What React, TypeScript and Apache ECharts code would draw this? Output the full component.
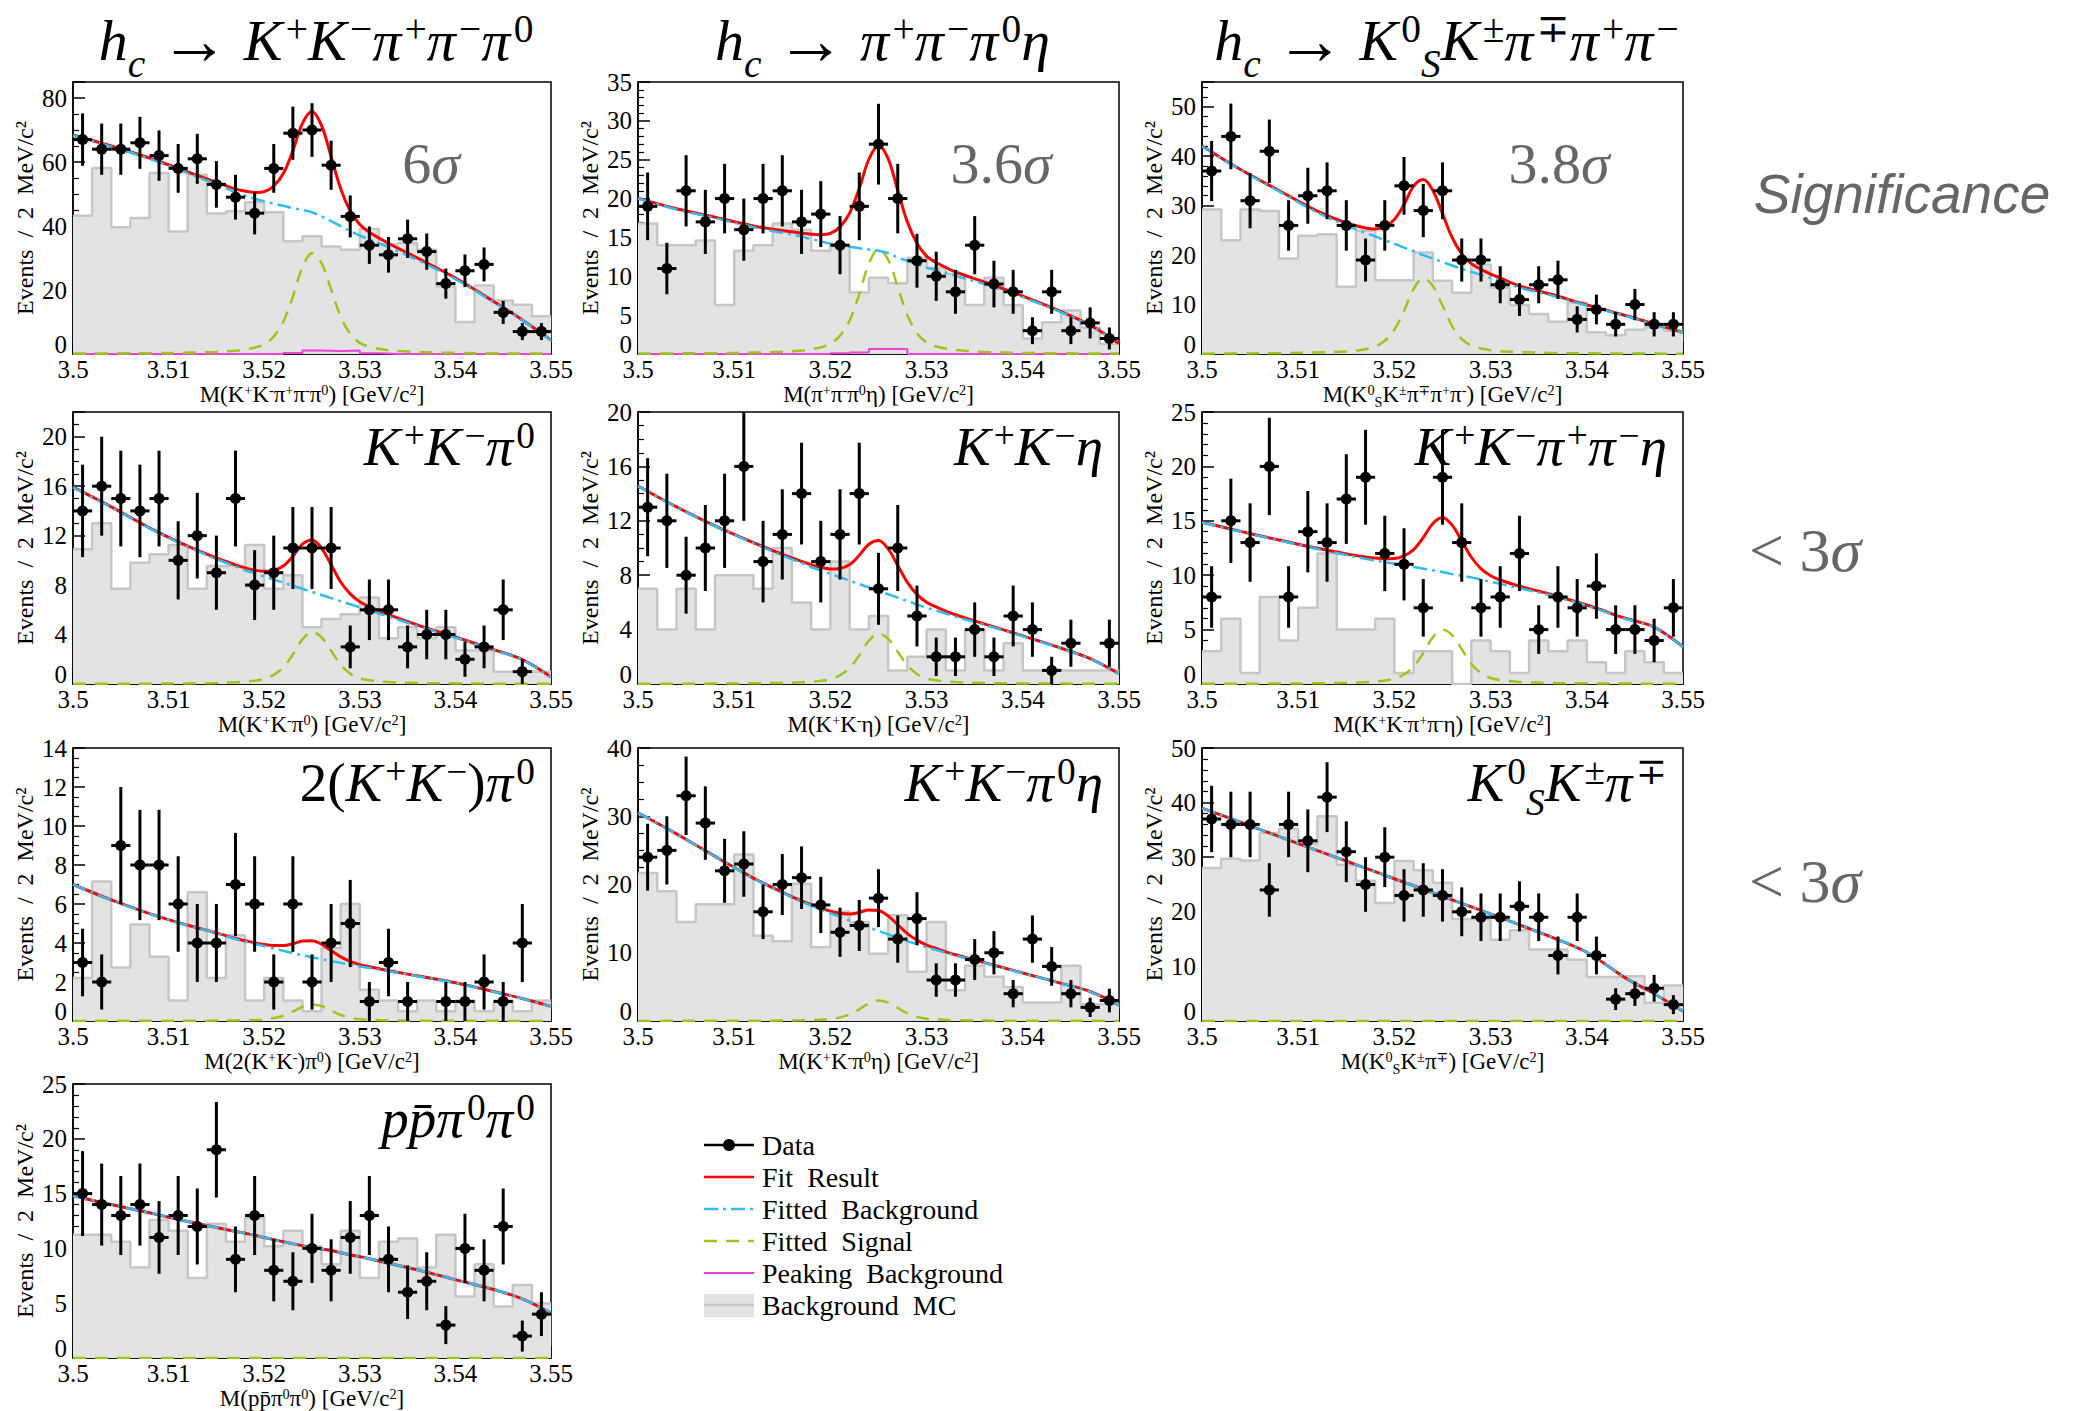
import React, { useEffect, useRef } from 'react';
import * as echarts from 'echarts';

// ---------- binning (2 MeV/c^2 bins over 3.50 - 3.55 GeV/c^2) ----------
const BIN_CENTERS = [3.501, 3.503, 3.505, 3.507, 3.509, 3.511, 3.513, 3.515, 3.517, 3.519, 3.521, 3.523, 3.525, 3.527, 3.529, 3.531, 3.533, 3.535, 3.537, 3.539, 3.541, 3.543, 3.545, 3.547, 3.549];
const BIN_EDGES = [3.500, 3.502, 3.504, 3.506, 3.508, 3.510, 3.512, 3.514, 3.516, 3.518, 3.520, 3.522, 3.524, 3.526, 3.528, 3.530, 3.532, 3.534, 3.536, 3.538, 3.540, 3.542, 3.544, 3.546, 3.548, 3.550];
// abscissae at which the fitted curves are sampled
const CURVE_X = [3.500, 3.504, 3.508, 3.512, 3.515, 3.517, 3.518, 3.519, 3.520, 3.521, 3.522, 3.523, 3.524, 3.525, 3.526, 3.527, 3.528, 3.529, 3.530, 3.531, 3.533, 3.536, 3.540, 3.544, 3.547, 3.550];

// ---------- h_c -> K+K-pi+pi-pi0 ----------
const P1_DATA = [67, 64, 64, 66, 62, 58, 61, 53, 49, 44, 58, 69, 70, 59, 43, 34, 31, 36, 32, 22, 26, 28, 13, 7, 7];
const P1_MC = [43.2, 58.1, 39.6, 42.5, 56.6, 38.3, 56, 43.9, 44.6, 47.4, 44.3, 35.2, 36.8, 33.6, 32.6, 39.1, 34.2, 34.7, 32.6, 21.1, 10, 21.4, 16.7, 15.4, 11.8];
const P1_BKG = [68.3, 64.8, 61, 56.5, 53, 50.5, 49.5, 48.5, 47.7, 47, 46.3, 45.6, 45, 44.3, 43, 41.5, 40, 38.4, 37, 35.8, 33.4, 29.4, 23.4, 16.2, 10.5, 4.2];
const P1_SIG = [0.13, 0.19, 0.25, 0.41, 0.66, 1.04, 1.42, 1.98, 3.06, 5.51, 10.08, 17.96, 27.09, 31.5, 28.35, 20.16, 11.66, 6.3, 3.47, 2.27, 1.2, 0.63, 0.35, 0.22, 0.16, 0.13];
const P1_PEAK = [0, 0, 0, 0, 0, 0, 0, 0, 0, 0, 0, 0.3, 1.1, 0.9, 1.1, 0.2, 0, 0, 0, 0, 0, 0, 0, 0, 0];

// ---------- h_c -> pi+pi-pi0 eta ----------
const P2_DATA = [19, 11, 21, 17, 20, 16, 20, 21, 17, 18, 14, 19, 27, 20, 12, 10, 8, 14, 9, 8, 3, 8, 3, 4, 2];
const P2_MC = [16.8, 14, 14, 14.6, 6.3, 13.3, 14, 16.8, 16, 13.3, 13.9, 7.9, 9.8, 9.1, 12.4, 11.1, 10.3, 6.3, 9.8, 6.3, 2, 4.1, 5.6, 3.4, 1.3];
const P2_BKG = [20.0, 18.6, 17.5, 16.3, 15.6, 15.1, 14.8, 14.5, 14.2, 14.0, 13.8, 13.6, 13.45, 13.3, 13.0, 12.4, 12.0, 11.55, 11.1, 10.8, 10.05, 9.0, 7.3, 5.35, 3.65, 1.3];
const P2_SIG = [0.05, 0.08, 0.11, 0.18, 0.28, 0.45, 0.61, 0.85, 1.31, 2.36, 4.32, 7.7, 11.61, 13.5, 12.15, 8.64, 5.0, 2.7, 1.49, 0.97, 0.51, 0.27, 0.15, 0.09, 0.07, 0.05];
const P2_PEAK = [0, 0, 0, 0, 0, 0, 0, 0, 0, 0, 0.1, 0.2, 0.65, 0.65, 0, 0, 0, 0, 0, 0, 0, 0, 0, 0, 0];

// ---------- h_c -> K0S K+- pi-+ pi+pi- ----------
const P3_DATA = [37, 44, 31, 41, 26, 32, 33, 26, 19, 26, 34, 29, 33, 19, 19, 14, 11, 14, 15, 7, 9, 6, 10, 6, 6];
const P3_MC = [29.2, 23, 29.2, 28.9, 19.3, 23.9, 24.2, 13.6, 24.9, 14.9, 14.9, 20.5, 14.8, 12.4, 18.1, 13.4, 9.9, 8.1, 6.5, 10.4, 4.4, 3.8, 4.9, 5.4, 4.7];
const P3_BKG = [42.0, 37.2, 32.9, 28.6, 26.0, 24.5, 23.8, 23.0, 22.3, 21.5, 20.8, 20.0, 19.3, 18.6, 17.9, 17.2, 16.6, 16.0, 15.4, 14.8, 13.4, 12.0, 9.8, 7.7, 6.0, 4.3];
const P3_SIG = [0.06, 0.11, 0.17, 0.31, 0.5, 0.96, 1.48, 2.68, 4.9, 8.72, 13.16, 15.3, 13.77, 9.79, 5.66, 3.06, 1.68, 1.1, 0.77, 0.58, 0.38, 0.23, 0.14, 0.09, 0.08, 0.06];

// ---------- K+K-pi0 ----------
const P4_DATA = [14, 16, 15, 14, 15, 10, 12, 9, 15, 8, 9, 11, 11, 11, 3, 6, 6, 3, 4, 4, 2, 3, 6, 1, null];
const P4_MC = [10.9, 13, 7.7, 9.8, 10.5, 11.25, 7.7, 9.55, 9.55, 11.25, 7.7, 8.8, 4.6, 5.25, 5.65, 7, 3.7, 4.6, 3.7, 4.6, 2.7, 2.7, 1, 1, 1];
const P4_BKG = [15.9, 14.3, 12.6, 11.1, 10.1, 9.5, 9.2, 8.95, 8.7, 8.45, 8.2, 7.95, 7.7, 7.45, 7.2, 6.95, 6.7, 6.45, 6.2, 5.95, 5.45, 4.7, 3.75, 2.75, 1.95, 0.55];
const P4_SIG = [0.02, 0.03, 0.03, 0.05, 0.09, 0.14, 0.19, 0.26, 0.41, 0.74, 1.34, 2.39, 3.61, 4.2, 3.78, 2.69, 1.55, 0.84, 0.46, 0.3, 0.16, 0.08, 0.05, 0.03, 0.02, 0.02];

// ---------- K+K-eta ----------
const P5_DATA = [13, 12, 8, 10, 12, 16, 9, 11, 14, 9, 11, 14, 7, 10, 5, 2, 2, 4, 2, 5, 4, 1, 3, null, 3];
const P5_MC = [7, 4, 7, 4, 8, 8, 7, 10, 6, 4, 9, 4, 5, 1, 2, 4, 1, 4, 1, 3, 1, 1, 1, 1, 1];
const P5_BKG = [14.55, 13.0, 11.6, 10.35, 9.45, 8.9, 8.6, 8.35, 8.1, 7.85, 7.6, 7.35, 7.1, 6.85, 6.6, 6.35, 6.1, 5.85, 5.6, 5.4, 4.95, 4.35, 3.5, 2.6, 1.85, 0.75];
const P5_SIG = [0.01, 0.02, 0.03, 0.05, 0.08, 0.12, 0.17, 0.23, 0.36, 0.65, 1.18, 2.11, 3.18, 3.7, 3.33, 2.37, 1.37, 0.74, 0.41, 0.27, 0.14, 0.07, 0.04, 0.03, 0.02, 0.01];

// ---------- K+K-pi+pi-eta ----------
const P6_DATA = [8, 15, 13, 20, 8, 14, 13, 17, 19, 12, 11, 7, 19, 13, 7, 8, 12, 5, 8, 7, 9, 5, 5, 4, 7];
const P6_MC = [3, 6, 1, 8, 4, 7, 12, 5, 5, 6, 1, 3, 3, 0, 4, 3, 1, 4, 3, 4, 2, 1, 3, 2, 1];
const P6_BKG = [14.85, 14.0, 13.2, 12.4, 11.85, 11.5, 11.35, 11.2, 11.05, 10.9, 10.75, 10.6, 10.45, 10.3, 10.1, 9.95, 9.8, 9.6, 9.4, 9.2, 8.8, 8.2, 7.2, 6.0, 5.2, 3.4];
const P6_SIG = [0.02, 0.03, 0.04, 0.07, 0.11, 0.17, 0.23, 0.32, 0.49, 0.88, 1.6, 2.85, 4.3, 5.0, 4.5, 3.2, 1.85, 1.0, 0.55, 0.36, 0.19, 0.1, 0.06, 0.04, 0.03, 0.02];

// ---------- 2(K+K-)pi0 ----------
const P7_DATA = [3, 2, 9, 8, 8, 6, 4, 4, 7, 6, 2, 6, 2, 4, 5, 1, 3, 1, null, 1, 1, 2, 1, 4, null];
const P7_MC = [2.2, 7.15, 2.75, 4.95, 3.3, 1.05, 6.6, 2.2, 4.4, 1.05, 2.2, 1.05, 0.5, 3.75, 6.0, 1.6, 1.05, 0.5, 1.05, 0.5, 1.05, 0.5, 1.05, 0.5, 1.05];
const P7_BKG = [7.0, 6.2, 5.5, 4.9, 4.5, 4.2, 4.08, 3.96, 3.84, 3.72, 3.6, 3.48, 3.37, 3.27, 3.17, 3.07, 2.98, 2.89, 2.8, 2.72, 2.55, 2.3, 1.95, 1.5, 1.15, 0.75];
const P7_SIG = [0, 0.01, 0.01, 0.01, 0.02, 0.03, 0.04, 0.05, 0.08, 0.15, 0.27, 0.48, 0.73, 0.85, 0.77, 0.54, 0.31, 0.17, 0.09, 0.06, 0.03, 0.02, 0.01, 0.01, 0, 0];

// ---------- K+K-pi0 eta ----------
const P8_DATA = [24, 25, 33, 29, 22, 23, 16, 20, 21, 17, 13, 14, 18, 12, 15, 6, 6, 9, 10, 4, 12, 8, 4, 2, 3];
const P8_MC = [21.7, 19, 14.5, 17.1, 17.1, 24.4, 12.5, 11.7, 20.1, 10.8, 16, 14.5, 9.85, 15.5, 7.2, 14.5, 4.5, 8.1, 6.5, 5.0, 2.7, 2.7, 8.1, 2.5, 2.5];
const P8_BKG = [30.5, 27.4, 24.1, 20.9, 18.8, 17.5, 16.9, 16.35, 15.8, 15.25, 14.7, 14.2, 13.7, 13.2, 12.7, 12.2, 11.7, 11.25, 10.8, 10.4, 9.6, 8.5, 7.0, 5.5, 4.3, 2.3];
const P8_SIG = [0.01, 0.02, 0.02, 0.04, 0.06, 0.1, 0.14, 0.19, 0.29, 0.53, 0.96, 1.71, 2.58, 3.0, 2.7, 1.92, 1.11, 0.6, 0.33, 0.22, 0.11, 0.06, 0.03, 0.02, 0.02, 0.01];

// ---------- K0S K+- pi-+ ----------
const P9_DATA = [37, 36, 36, 24, 36, 33, 41, 31, 25, 30, 23, 24, 23, 20, 19, 19, 21, 19, 12, 19, 12, 4, 5, 6, 3];
const P9_MC = [28, 29.7, 29.4, 34.45, 35.2, 32.4, 37.5, 28.6, 25.7, 21.6, 29.3, 27.6, 25.3, 18.7, 18.7, 14.9, 16.6, 13.1, 13.1, 11.2, 8.05, 8.05, 8.2, 3.35, 6.5];
const P9_BKG = [39.0, 36.4, 33.8, 31.2, 29.3, 28.0, 27.35, 26.7, 26.05, 25.4, 24.8, 24.1, 23.5, 22.85, 22.2, 21.55, 20.9, 20.25, 19.6, 18.95, 17.6, 15.6, 12.6, 7.9, 5.0, 1.8];
const P9_SIG = [0, 0, 0, 0, 0, 0, 0, 0, 0, 0, 0, 0, 0, 0, 0, 0, 0, 0, 0, 0, 0, 0, 0, 0, 0, 0];

// ---------- p pbar pi0 pi0 ----------
const P10_DATA = [15, 14, 13, 14, 11, 13, 12, 19, 9, 13, 8, 7, 10, 8, 11, 13, 9, 6, 7, 3, 10, 8, 12, 2, 4];
const P10_MC = [11.25, 11.25, 10.6, 8.25, 12.6, 11.6, 7.3, 12.25, 10.6, 12.8, 10.2, 11.6, 10.2, 8.55, 11.6, 7.3, 10.6, 10.9, 8.25, 11.25, 5.6, 8.55, 4.7, 6.65, 5.0];
const P10_BKG = [14.8, 14.0, 13.25, 12.45, 11.9, 11.55, 11.38, 11.2, 11.0, 10.8, 10.6, 10.42, 10.25, 10.1, 9.95, 9.8, 9.6, 9.4, 9.25, 9.05, 8.65, 8.05, 7.15, 6.25, 5.4, 4.1];
const P10_SIG = [0, 0, 0, 0, 0, 0, 0, 0, 0, 0, 0, 0, 0, 0, 0, 0, 0, 0, 0, 0, 0, 0, 0, 0, 0, 0];

// ---------- per-panel axis settings and texts ----------
const Y_MAX = [85, 35, 55, 22, 20, 25, 14, 40, 50, 25];
const Y_STEP = [20, 5, 10, 4, 4, 5, 2, 10, 10, 5];
const Y_MINOR = [4, 5, 5, 4, 4, 5, 4, 4, 5, 5];
const X_TICK_LABELS = ['3.5', '3.51', '3.52', '3.53', '3.54', '3.55'];
const Y_ORIGIN_LABEL = '0';
const Y_TITLE = 'Events\u2002/\u20022\u2002MeV/c\u00B2';
const X_TITLES = [
  'M(K^{+}K^{-}π^{+}π^{-}π^{0}) [GeV/c^{2}]',
  'M(π^{+}π^{-}π^{0}η) [GeV/c^{2}]',
  'M(K^{0}_{S}K^{±}π^{∓}π^{+}π^{-}) [GeV/c^{2}]',
  'M(K^{+}K^{-}π^{0}) [GeV/c^{2}]',
  'M(K^{+}K^{-}η) [GeV/c^{2}]',
  'M(K^{+}K^{-}π^{+}π^{-}η) [GeV/c^{2}]',
  'M(2(K^{+}K^{-})π^{0}) [GeV/c^{2}]',
  'M(K^{+}K^{-}π^{0}η) [GeV/c^{2}]',
  'M(K^{0}_{S}K^{±}π^{∓}) [GeV/c^{2}]',
  'M(pp\u0304π^{0}π^{0}) [GeV/c^{2}]',
];
const TITLES = [
  'h_{c} → K^{+}K^{−}π^{+}π^{−}π^{0}',
  'h_{c} → π^{+}π^{−}π^{0}η',
  'h_{c} → K^{0}_{S}K^{±}π^{∓}π^{+}π^{−}',
];
const CHANNEL_LABELS = [
  '', '', '',
  'K^{+}K^{−}π^{0}',
  'K^{+}K^{−}η',
  'K^{+}K^{−}π^{+}π^{−}η',
  '2(K^{+}K^{−})π^{0}',
  'K^{+}K^{−}π^{0}η',
  'K^{0}_{S}K^{±}π^{∓}',
  'pp\u0304π^{0}π^{0}',
];
const SIGNIFICANCES = ['6σ', '3.6σ', '3.8σ'];
const SIGNIFICANCE_COLUMN = ['Significance', '< 3σ', '< 3σ'];
const LEGEND_LABELS = ['Data', 'Fit\u2002Result', 'Fitted\u2002Background', 'Fitted\u2002Signal', 'Peaking\u2002Background', 'Background\u2002MC'];

// ---------- layout ----------
const COL_LEFT = [73, 638, 1202];
const COL_WIDTH = [478, 481, 481];
const ROW_TOP = [82, 412, 748, 1084];
const ROW_HEIGHT = [272, 272, 273, 274];

const FONT = 'Liberation Serif, DejaVu Serif, serif';
const SANS = 'Liberation Sans, Arial, sans-serif';
const C_RED = '#ff0000';
const C_BLUE = '#2fbcef';
const C_GREEN = '#9cc61c';
const C_MAGENTA = '#ee3fd8';
const C_MC_FILL = '#e3e3e3';
const C_MC_LINE = '#c6c6c6';
const C_GRAY_TEXT = '#666666';

const PANEL_DATA = [P1_DATA, P2_DATA, P3_DATA, P4_DATA, P5_DATA, P6_DATA, P7_DATA, P8_DATA, P9_DATA, P10_DATA];
const PANEL_MC = [P1_MC, P2_MC, P3_MC, P4_MC, P5_MC, P6_MC, P7_MC, P8_MC, P9_MC, P10_MC];
const PANEL_BKG = [P1_BKG, P2_BKG, P3_BKG, P4_BKG, P5_BKG, P6_BKG, P7_BKG, P8_BKG, P9_BKG, P10_BKG];
const PANEL_SIG = [P1_SIG, P2_SIG, P3_SIG, P4_SIG, P5_SIG, P6_SIG, P7_SIG, P8_SIG, P9_SIG, P10_SIG];
const PANEL_PEAK = [P1_PEAK, P2_PEAK];

// ---------- TLatex-like formulas rendered as rich text ----------
function parseTex(src) {
  const out = [];
  let i = 0;
  let buf = '';
  const flush = () => {
    if (buf) out.push({ kind: 'base', text: buf });
    buf = '';
  };
  const readGroup = () => {
    let res = '';
    i++;
    while (i < src.length && src[i] !== '}') {
      res += src[i];
      i++;
    }
    i++;
    return res;
  };
  while (i < src.length) {
    const ch = src[i];
    if (ch === '^' || ch === '_') {
      flush();
      i++;
      out.push({ kind: ch === '^' ? 'sup' : 'sub', text: readGroup() });
    } else {
      buf += ch;
      i++;
    }
  }
  flush();
  return out;
}

function isLetter(ch) {
  return /[A-Za-z\u0370-\u03FF]/.test(ch);
}

// splits text into runs of italic letters, upright characters and arrows
function splitRuns(text, italicMode) {
  const runs = [];
  for (const ch of Array.from(text)) {
    const prev = runs[runs.length - 1];
    let cls = 'r';
    if (ch === '→') cls = 'a';
    else if (italicMode && (isLetter(ch) || (ch === '\u0304' && !!prev && prev.cls === 'i'))) cls = 'i';
    if (prev && prev.cls === cls && cls !== 'a') prev.text += ch;
    else runs.push({ text: ch, cls });
  }
  return runs;
}

// a graphic text element whose baseline sits at y
function formula(src, opt) {
  const {
    x, y, size: S, align = 'left', color = '#000', italic = true,
    ratio = 0.68, raise = 0.3, drop = 0.22, lineFactor = 1.2,
  } = opt;
  const ss = S * ratio;
  const L = lineFactor * S;
  const B = L / 2 + 0.3375 * S; // baseline of normal-size text below the line top
  const supH = 2 * (B - raise * S - 0.3375 * ss);
  const subH = 2 * (L - (B + drop * S - 0.3375 * ss));
  const common = { fontFamily: FONT, fill: color };
  const baseStyle = { ...common, fontSize: S, height: L, lineHeight: L, verticalAlign: 'bottom' };
  const supStyle = { ...common, fontSize: ss, height: supH, lineHeight: supH, verticalAlign: 'top' };
  const subStyle = { ...common, fontSize: ss, height: subH, lineHeight: subH, verticalAlign: 'bottom' };
  const rich = {
    br: { ...baseStyle, fontStyle: 'normal' },
    bi: { ...baseStyle, fontStyle: 'italic' },
    ba: { ...baseStyle, fontStyle: 'normal', fontSize: S * 1.2 },
    ur: { ...supStyle, fontStyle: 'normal' },
    ui: { ...supStyle, fontStyle: 'italic' },
    ua: { ...supStyle, fontStyle: 'normal' },
    dr: { ...subStyle, fontStyle: 'normal' },
    di: { ...subStyle, fontStyle: 'italic' },
    da: { ...subStyle, fontStyle: 'normal' },
  };
  let text = '';
  let prevItalic = false;
  for (const tok of parseTex(src)) {
    const key = tok.kind === 'base' ? 'b' : tok.kind === 'sup' ? 'u' : 'd';
    let t = tok.text;
    if (tok.kind === 'sup' && prevItalic) t = '\u200A' + t;
    const runs = splitRuns(t, italic);
    for (const run of runs) text += `{${key}${run.cls}|${run.text}}`;
    prevItalic = tok.kind === 'base' && runs.length > 0 && runs[runs.length - 1].cls === 'i';
  }
  return {
    type: 'text',
    x,
    y: y - B,
    silent: true,
    style: { text, rich, align, verticalAlign: 'top', fill: color, fontFamily: FONT, fontSize: S },
  };
}

function panelBox(p) {
  const row = Math.floor(p / 3);
  const col = p % 3;
  return { left: COL_LEFT[col], top: ROW_TOP[row], width: COL_WIDTH[col], height: ROW_HEIGHT[row] };
}

function renderDataPoint(params, api) {
  const x = api.value(0);
  const n = api.value(1);
  const err = Math.sqrt(n); // Poisson error on the bin content
  const c = api.coord([x, n]);
  const top = api.coord([x, n + err]);
  const bot = api.coord([x, Math.max(n - err, 0)]);
  const l = api.coord([x - 0.001, n]);
  const r = api.coord([x + 0.001, n]);
  return {
    type: 'group',
    children: [
      { type: 'line', shape: { x1: c[0], y1: top[1], x2: c[0], y2: bot[1] }, style: { stroke: '#000', lineWidth: 3 } },
      { type: 'line', shape: { x1: l[0], y1: c[1], x2: r[0], y2: c[1] }, style: { stroke: '#000', lineWidth: 3 } },
      { type: 'circle', shape: { cx: c[0], cy: c[1], r: 5.5 }, style: { fill: '#000' } },
    ],
  };
}

function buildOption() {
  const grids = [];
  const xAxes = [];
  const yAxes = [];
  const series = [];
  const graphics = [];

  for (let p = 0; p < 10; p++) {
    const box = panelBox(p);
    grids.push({ ...box, show: true, borderColor: '#000', borderWidth: 1.5, backgroundColor: 'transparent' });

    xAxes.push({
      gridIndex: p,
      type: 'value',
      min: 3.5,
      max: 3.55,
      interval: 0.01,
      axisLine: { lineStyle: { color: '#000', width: 1.5 } },
      axisTick: { inside: true, length: 12, lineStyle: { color: '#000', width: 1.5 } },
      minorTick: { show: true, splitNumber: 5, length: 6, lineStyle: { color: '#000', width: 1.2 } },
      splitLine: { show: false },
      axisLabel: {
        fontFamily: FONT,
        fontSize: 25,
        color: '#000',
        margin: 3,
        formatter: (v) => X_TICK_LABELS[Math.round((v - 3.5) / 0.01)] ?? '',
      },
    });

    const step = Y_STEP[p];
    yAxes.push({
      gridIndex: p,
      type: 'value',
      min: 0,
      max: Y_MAX[p],
      interval: step,
      axisLine: { lineStyle: { color: '#000', width: 1.5 } },
      axisTick: { inside: true, length: 12, lineStyle: { color: '#000', width: 1.5 } },
      minorTick: { show: true, splitNumber: Y_MINOR[p], length: 6, lineStyle: { color: '#000', width: 1.2 } },
      splitLine: { show: false },
      axisLabel: {
        fontFamily: FONT,
        fontSize: 25,
        color: '#000',
        margin: 6,
        // the origin label is placed separately, just above the x-axis labels
        formatter: (v) => (v === 0 || Math.abs(v / step - Math.round(v / step)) > 1e-6 ? '' : String(v)),
      },
      name: Y_TITLE,
      nameLocation: 'middle',
      nameRotate: 90,
      nameGap: 36,
      nameTextStyle: { fontFamily: FONT, fontSize: 24, color: '#000' },
    });

    graphics.push({
      type: 'text',
      x: box.left - 6,
      y: box.top + box.height - 10,
      silent: true,
      style: { text: Y_ORIGIN_LABEL, fontSize: 25, fontFamily: FONT, fill: '#000', align: 'right', verticalAlign: 'middle' },
    });

    const mc = PANEL_MC[p];
    const bkg = PANEL_BKG[p];
    const sig = PANEL_SIG[p];

    // background MC histogram
    series.push({
      type: 'line',
      xAxisIndex: p,
      yAxisIndex: p,
      step: 'end',
      symbol: 'none',
      silent: true,
      z: 1,
      data: BIN_EDGES.map((e, k) => [e, mc[Math.min(k, mc.length - 1)]]),
      lineStyle: { color: C_MC_LINE, width: 2.5 },
      areaStyle: { color: C_MC_FILL, opacity: 1 },
    });

    // peaking background
    if (PANEL_PEAK[p]) {
      const pk = PANEL_PEAK[p];
      series.push({
        type: 'line',
        xAxisIndex: p,
        yAxisIndex: p,
        step: 'end',
        symbol: 'none',
        silent: true,
        z: 2,
        data: BIN_EDGES.map((e, k) => [e, pk[Math.min(k, pk.length - 1)]]),
        lineStyle: { color: C_MAGENTA, width: 2 },
      });
    }

    // fitted signal
    series.push({
      type: 'line',
      xAxisIndex: p,
      yAxisIndex: p,
      symbol: 'none',
      silent: true,
      smooth: 0.35,
      z: 3,
      data: CURVE_X.map((x, k) => [x, sig[k]]),
      lineStyle: { color: C_GREEN, width: 2.5, type: [13, 9] },
    });

    // total fit = background + signal
    series.push({
      type: 'line',
      xAxisIndex: p,
      yAxisIndex: p,
      symbol: 'none',
      silent: true,
      smooth: 0.35,
      z: 4,
      data: CURVE_X.map((x, k) => [x, bkg[k] + sig[k]]),
      lineStyle: { color: C_RED, width: 3 },
    });

    // fitted background
    series.push({
      type: 'line',
      xAxisIndex: p,
      yAxisIndex: p,
      symbol: 'none',
      silent: true,
      smooth: 0.35,
      z: 5,
      data: CURVE_X.map((x, k) => [x, bkg[k]]),
      lineStyle: { color: C_BLUE, width: 2.5, type: [14, 5, 3, 5] },
    });

    // data with errors
    const pts = [];
    PANEL_DATA[p].forEach((n, k) => {
      if (n !== null) pts.push([BIN_CENTERS[k], n]);
    });
    series.push({
      type: 'custom',
      xAxisIndex: p,
      yAxisIndex: p,
      z: 6,
      silent: true,
      clip: true,
      encode: { x: 0, y: 1 },
      data: pts,
      renderItem: renderDataPoint,
    });

    // x-axis title
    graphics.push(
      formula(X_TITLES[p], {
        x: box.left + box.width / 2,
        y: box.top + box.height + 48,
        size: 23,
        align: 'center',
        italic: false,
        ratio: 0.62,
        raise: 0.33,
        drop: 0.2,
        lineFactor: 0.95,
      })
    );

    // channel label in the upper right corner
    if (CHANNEL_LABELS[p]) {
      graphics.push(
        formula(CHANNEL_LABELS[p], {
          x: box.left + box.width - 16,
          y: box.top + 53,
          size: 55,
          align: 'right',
          drop: 0.26,
        })
      );
    }
  }

  // decay titles above the first row
  for (let c = 0; c < 3; c++) {
    const box = panelBox(c);
    graphics.push(formula(TITLES[c], { x: box.left + box.width / 2 + 4, y: 60, size: 58, align: 'center', drop: 0.3 }));
  }

  // significances inside the first row
  const sigX = [431, 1001, 1559];
  SIGNIFICANCES.forEach((s, c) => {
    graphics.push(formula(s, { x: sigX[c], y: 183, size: 58, align: 'center', color: C_GRAY_TEXT }));
  });

  // significance column on the right
  graphics.push({
    type: 'text',
    x: 1902,
    y: 194,
    silent: true,
    style: {
      text: SIGNIFICANCE_COLUMN[0],
      fontSize: 55,
      fontFamily: SANS,
      fontStyle: 'italic',
      fill: C_GRAY_TEXT,
      align: 'center',
      verticalAlign: 'middle',
    },
  });
  graphics.push(formula(SIGNIFICANCE_COLUMN[1], { x: 1805, y: 571, size: 62, align: 'center', color: C_GRAY_TEXT }));
  graphics.push(formula(SIGNIFICANCE_COLUMN[2], { x: 1805, y: 902, size: 62, align: 'center', color: C_GRAY_TEXT }));

  // legend
  const LX0 = 704;
  const LX1 = 754;
  const rowsY = [1145, 1177, 1209, 1241, 1273, 1305];
  const legendSymbols = [
    [
      { type: 'line', shape: { x1: LX0, y1: rowsY[0], x2: LX1, y2: rowsY[0] }, style: { stroke: '#000', lineWidth: 2.5 } },
      { type: 'circle', shape: { cx: (LX0 + LX1) / 2, cy: rowsY[0], r: 6 }, style: { fill: '#000' } },
    ],
    [{ type: 'line', shape: { x1: LX0, y1: rowsY[1], x2: LX1, y2: rowsY[1] }, style: { stroke: C_RED, lineWidth: 2.5 } }],
    [{ type: 'line', shape: { x1: LX0, y1: rowsY[2], x2: LX1, y2: rowsY[2] }, style: { stroke: C_BLUE, lineWidth: 2.5, lineDash: [14, 5, 3, 5] } }],
    [{ type: 'line', shape: { x1: LX0, y1: rowsY[3], x2: LX1, y2: rowsY[3] }, style: { stroke: C_GREEN, lineWidth: 2.5, lineDash: [13, 9] } }],
    [{ type: 'line', shape: { x1: LX0, y1: rowsY[4], x2: LX1, y2: rowsY[4] }, style: { stroke: C_MAGENTA, lineWidth: 2 } }],
    [
      { type: 'rect', shape: { x: LX0, y: rowsY[5] - 11, width: LX1 - LX0, height: 23 }, style: { fill: C_MC_FILL } },
      { type: 'line', shape: { x1: LX0, y1: rowsY[5], x2: LX1, y2: rowsY[5] }, style: { stroke: C_MC_LINE, lineWidth: 2.5 } },
    ],
  ];
  legendSymbols.forEach((els) => els.forEach((e) => graphics.push({ ...e, silent: true })));
  LEGEND_LABELS.forEach((t, k) => {
    graphics.push({
      type: 'text',
      x: 762,
      y: rowsY[k],
      silent: true,
      style: { text: t, fontSize: 28, fontFamily: FONT, fill: '#000', align: 'left', verticalAlign: 'middle' },
    });
  });

  return {
    animation: false,
    backgroundColor: '#ffffff',
    textStyle: { fontFamily: FONT },
    grid: grids,
    xAxis: xAxes,
    yAxis: yAxes,
    series,
    graphic: { elements: graphics },
  };
}

export default function App() {
  const ref = useRef(null);
  useEffect(() => {
    document.body.style.margin = '0';
    const chart = echarts.init(ref.current, null, { renderer: 'svg' });
    chart.setOption(buildOption());
    return () => chart.dispose();
  }, []);
  return <div ref={ref} style={{ width: 2094, height: 1411, background: '#fff' }} />;
}
